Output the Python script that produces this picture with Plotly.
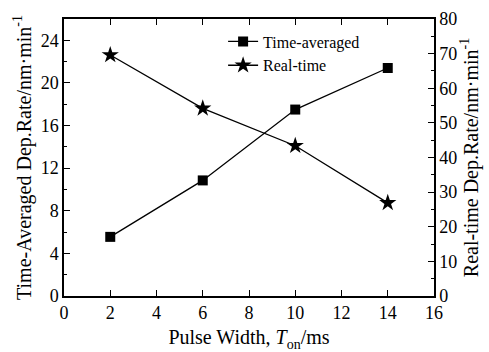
import plotly.graph_objects as go

pulse_width = [2, 6, 10, 14]
time_averaged = [5.55, 10.85, 17.5, 21.4]
real_time = [69.6, 54.2, 43.4, 26.9]

FONT = "Liberation Serif, Times New Roman, serif"

fig = go.Figure()
fig.add_trace(go.Scatter(
    x=pulse_width, y=time_averaged, name="Time-averaged", mode="lines+markers",
    line=dict(color="black", width=1.3),
    marker=dict(symbol="square", size=10, color="black"),
    yaxis="y"))
fig.add_trace(go.Scatter(
    x=pulse_width, y=real_time, name="Real-time", mode="lines+markers",
    line=dict(color="black", width=1.3),
    marker=dict(symbol="star", size=13, color="black"),
    yaxis="y2"))

def axis(**kw):
    d = dict(showgrid=False, zeroline=False, showline=True, linecolor="black",
             linewidth=1.5, ticks="inside", ticklen=6, tickcolor="black",
             automargin=False,
             tickfont=dict(family=FONT, size=18, color="black"))
    d.update(kw)
    return d

fig.update_layout(
    template="none",
    width=489, height=352,
    margin=dict(l=64, r=55, t=19, b=56),
    plot_bgcolor="white", paper_bgcolor="white",
    font=dict(family=FONT, size=18, color="black"),
    xaxis=axis(range=[0, 16], dtick=2, mirror="ticks",
               title=dict(text="Pulse Width, <i>T</i><sub>on</sub>/ms",
                          font=dict(family=FONT, size=20), standoff=8)),
    yaxis=axis(range=[0, 26], dtick=4,
               minor=dict(ticks="inside", dtick=2, ticklen=3, tickcolor="black"),
               title=dict(text="Time-Averaged Dep.Rate/nm·min<sup>-1</sup>",
                          font=dict(family=FONT, size=20), standoff=4)),
    yaxis2=axis(range=[0, 80], dtick=10, overlaying="y", side="right",
                minor=dict(ticks="inside", dtick=5, ticklen=3, tickcolor="black"),
                title=dict(text="Real-time Dep.Rate/nm·min<sup>-1</sup>",
                           font=dict(family=FONT, size=20), standoff=2)),
    legend=dict(x=0.43, y=0.98, xanchor="left", yanchor="top",
                bgcolor="rgba(0,0,0,0)", font=dict(family=FONT, size=16),
                itemwidth=30, tracegroupgap=0),
    showlegend=True,
)

fig.write_html("out.html")
